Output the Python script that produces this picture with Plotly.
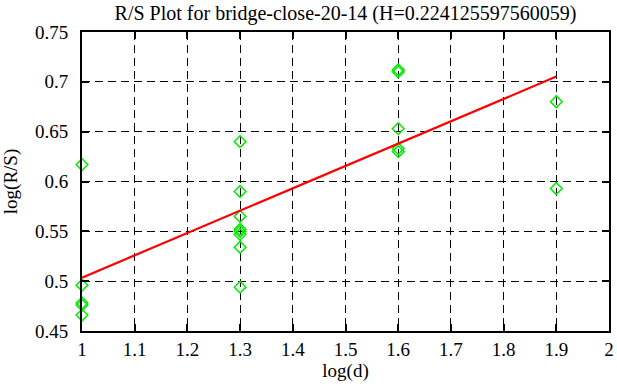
import plotly.graph_objects as go

# Data
log_d = [1.0, 1.0, 1.0, 1.0, 1.0,
         1.3, 1.3, 1.3, 1.3, 1.3, 1.3, 1.3, 1.3,
         1.6, 1.6, 1.6, 1.6, 1.6,
         1.9, 1.9]
log_rs = [0.617, 0.496, 0.478, 0.476, 0.466,
          0.640, 0.590, 0.565, 0.552, 0.550, 0.547, 0.534, 0.494,
          0.712, 0.710, 0.653, 0.633, 0.630,
          0.680, 0.593]

H = 0.224125597560059
intercept = 0.2794
fit_x = [1.0, 1.9]
fit_y = [intercept + H * v for v in fit_x]

x_ticks = [1.0, 1.1, 1.2, 1.3, 1.4, 1.5, 1.6, 1.7, 1.8, 1.9, 2.0]
x_tick_labels = ["1", "1.1", "1.2", "1.3", "1.4", "1.5", "1.6", "1.7", "1.8", "1.9", "2"]
y_ticks = [0.45, 0.5, 0.55, 0.6, 0.65, 0.7, 0.75]
y_tick_labels = ["0.45", "0.5", "0.55", "0.6", "0.65", "0.7", "0.75"]

title_text = "R/S Plot for bridge-close-20-14 (H=0.224125597560059)"

font_family = "Liberation Serif, Times New Roman, Tinos, serif"

fig = go.Figure()
fig.add_trace(go.Scatter(
    x=log_d, y=log_rs, mode="markers",
    marker=dict(symbol="diamond-open", size=9, color="#00ee00",
                line=dict(width=1.5, color="#00ee00")),
    showlegend=False, cliponaxis=False,
))
fig.add_trace(go.Scatter(
    x=fit_x, y=fit_y, mode="lines",
    line=dict(color="#ff0000", width=2.2),
    showlegend=False,
))

axis_common = dict(
    showline=True, linewidth=2, linecolor="black", mirror="ticks",
    ticks="inside", ticklen=7, tickwidth=1.5, tickcolor="black",
    showgrid=True, gridcolor="black", gridwidth=1, griddash="8px,5px",
    zeroline=False, automargin=False,
    tickfont=dict(family=font_family, size=19, color="black"),
)

fig.update_layout(
    width=617, height=387,
    margin=dict(l=82, r=8, t=32, b=56),
    paper_bgcolor="white", plot_bgcolor="white",
    font=dict(family=font_family, size=19, color="black"),
    title=dict(text=title_text, x=0.5, xref="paper", xanchor="center",
               y=1 - 13 / 387, yref="container", yanchor="middle",
               font=dict(family=font_family, size=20, color="black")),
    xaxis=dict(range=[1, 2], tickvals=x_ticks, ticktext=x_tick_labels,
               ticklabelstandoff=0,
               title=dict(text="log(d)", standoff=0,
                          font=dict(family=font_family, size=19)),
               **axis_common),
    yaxis=dict(range=[0.45, 0.75], tickvals=y_ticks, ticktext=y_tick_labels,
               ticklabelstandoff=8,
               title=dict(text="log(R/S)", standoff=16,
                          font=dict(family=font_family, size=19)),
               **axis_common),
)

fig.write_html("out.html",
               config={"displayModeBar": False},
               post_script="document.body.style.margin='0';document.body.style.overflow='hidden';")
